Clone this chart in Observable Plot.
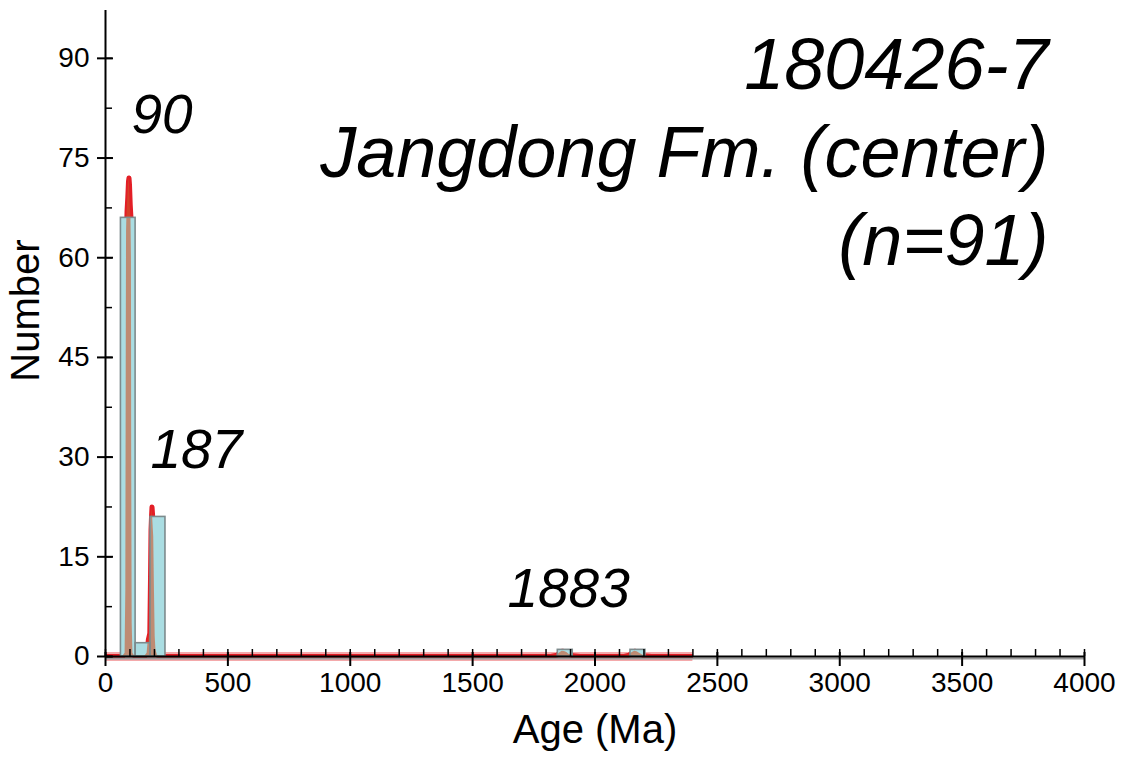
<!DOCTYPE html>
<html>
<head>
<meta charset="utf-8">
<script src="https://cdn.jsdelivr.net/npm/d3@7"></script>
<script src="https://cdn.jsdelivr.net/npm/@observablehq/plot@0.6"></script>
<style>
  html, body { margin: 0; padding: 0; background: #fff; }
  #chart { width: 1124px; height: 757px; }
</style>
</head>
<body>
<div id="chart"></div>
<script>
// Histogram bins (Ma) and counts
const binStart = [63, 123, 184, 1848, 2145];
const binEnd   = [123, 184, 245, 1909, 2206];
const binCount = [66, 2, 21, 1, 1];

// Probability density curve (scaled to counts)
const kdeAge = [0, 70, 80, 83, 85, 86, 88, 91, 94, 96, 98, 101, 104, 106, 107, 109, 112, 120,
                160, 170, 175, 178, 181, 184, 186, 188, 190, 192, 194, 197, 200, 203, 206, 212, 225,
                1820, 1845, 1858, 1866, 1875, 1885, 1895, 1910, 1940,
                2120, 2140, 2152, 2162, 2172, 2185, 2200, 2230, 2400];
const kdeValue = [0, 0, 0.5, 10, 50, 64, 67, 69, 71.5, 72, 71, 68, 66, 60, 30, 5, 0.5, 0,
                  0, 0.5, 2.5, 3, 3.5, 12, 19, 21, 22.5, 21.5, 20, 18, 10, 3, 1, 0.2, 0,
                  0, 0.2, 0.6, 0.8, 0.75, 0.6, 0.3, 0.1, 0,
                  0, 0.2, 0.6, 0.8, 0.7, 0.4, 0.1, 0, 0];

// Peak annotations
const peakText  = ["90", "187", "1883"];
const peakAge   = [106, 184, 1642];
const peakCount = [78.7, 28.3, 7.4];

// Titles
const titleLines = ["180426-7", "Jangdong Fm. (center)", "(n=91)"];

// Axis ticks
const xTicks = [0, 500, 1000, 1500, 2000, 2500, 3000, 3500, 4000];
const xMinor = d3.range(0, 4001, 100);
const yTicks = [0, 15, 30, 45, 60, 75, 90];
const yMinor = d3.range(0, 97, 7.5);

const bins = binStart.map((s, i) => ({x1: s, x2: binEnd[i], y: binCount[i]}));
const kde = kdeAge.map((a, i) => ({age: a, v: kdeValue[i]}));
const peaks = peakText.map((t, i) => ({t, x: peakAge[i], y: peakCount[i]}));
const kdeExtent = [{x1: kdeAge[0], x2: kdeAge[kdeAge.length - 1]}];

const font = "'Liberation Sans', Arial, Helvetica, sans-serif";

const plot = Plot.plot({
  width: 1124,
  height: 757,
  marginLeft: 105,
  marginRight: 40,
  marginTop: 10,
  marginBottom: 101,
  style: {fontFamily: font, color: "#000", background: "#fff", overflow: "visible"},
  x: {domain: [0, 4000]},
  y: {domain: [0, 97.2]},
  marks: [
    // pink fringe of the baseline of the density curve
    Plot.ruleY(kdeExtent, {x1: "x1", x2: "x2", y: 0, stroke: "#f4a9ab", strokeWidth: 9}),
    // density curve (under the bars)
    Plot.line(kde, {x: "age", y: "v", stroke: "#e31e26", strokeWidth: 5, strokeLinejoin: "round", strokeLinecap: "butt"}),
    // histogram fills
    Plot.rectY(bins, {x1: "x1", x2: "x2", y: "y", fill: "#aadde2"}),
    // density area (semi-transparent, shows brown over bars)
    Plot.areaY(kde, {x: "age", y: "v", fill: "rgb(203,85,41)", fillOpacity: 0.6}),
    // histogram outlines
    Plot.rectY(bins, {x1: "x1", x2: "x2", y: "y", fill: "none", stroke: "#7d8b8d", strokeWidth: 1.6}),
    // axis lines
    Plot.ruleY([0], {stroke: "#9a9a9a", strokeWidth: 2, dy: 2}),
    Plot.ruleY([0], {stroke: "#000", strokeWidth: 2}),
    Plot.ruleX([0], {stroke: "#000", strokeWidth: 2}),
    // x ticks
    Plot.axisX({ticks: xTicks, tickSize: 14, dy: -4, tickFormat: () => "", label: null, strokeWidth: 2}),
    Plot.axisX({ticks: xMinor, tickSize: 7, dy: -7, tickFormat: () => "", label: null, strokeWidth: 1.5}),
    Plot.axisX({ticks: xTicks, tickSize: 0, tickPadding: 16, fontSize: 28, tickFormat: d => String(d), label: null}),
    // y ticks
    Plot.axisY({ticks: yTicks, tickSize: 16, dx: 8, tickFormat: () => "", label: null, strokeWidth: 2}),
    Plot.axisY({ticks: yMinor, tickSize: 7, dx: 7, tickFormat: () => "", label: null, strokeWidth: 1.5}),
    Plot.axisY({ticks: yTicks, tickSize: 0, tickPadding: 16, fontSize: 28, tickFormat: d => String(d), label: null}),
    // axis titles
    Plot.text(["Age (Ma)"], {frameAnchor: "bottom", dy: 86, fontSize: 40, textAnchor: "middle", lineAnchor: "bottom", fill: "#000"}),
    Plot.text(["Number"], {frameAnchor: "left", dx: -79, dy: -23, rotate: -90, fontSize: 40, textAnchor: "middle", lineAnchor: "middle", fill: "#000"}),
    // peak labels
    Plot.text(peaks, {x: "x", y: "y", text: "t", fontSize: 55, fontStyle: "italic", textAnchor: "start", lineAnchor: "bottom", fill: "#000"}),
    // title block
    Plot.text([titleLines.join("\n")], {frameAnchor: "top-right", dx: -36, dy: 254, fontSize: 72, fontStyle: "italic", textAnchor: "end", lineAnchor: "bottom", lineHeight: 1.222, fill: "#000"})
  ]
});

document.getElementById("chart").appendChild(plot);
</script>
</body>
</html>
